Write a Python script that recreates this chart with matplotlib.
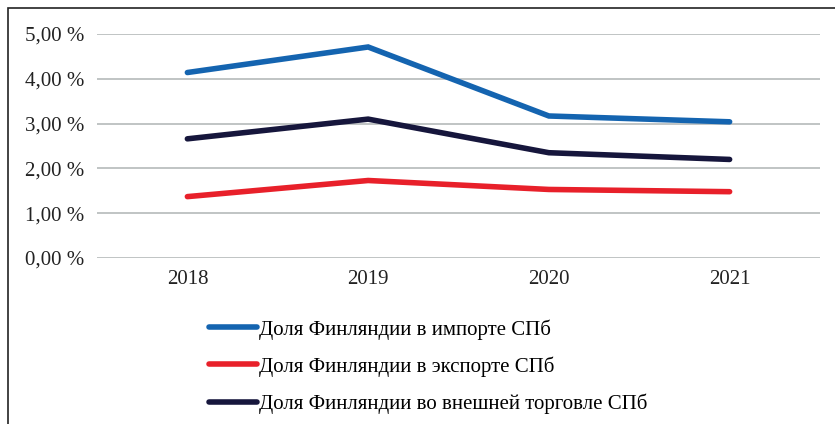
import matplotlib.pyplot as plt
from matplotlib.patches import Rectangle
from matplotlib.ticker import FuncFormatter

plt.rcParams["font.family"] = ["Liberation Serif", "DejaVu Serif"]
plt.rcParams["font.size"] = 15

# Данные
years = ["2018", "2019", "2020", "2021"]
import_share = [4.14, 4.71, 3.17, 3.04]
export_share = [1.37, 1.73, 1.53, 1.48]
trade_share = [2.66, 3.10, 2.35, 2.20]

labels = ["Доля Финляндии в импорте СПб",
          "Доля Финляндии в экспорте СПб",
          "Доля Финляндии во внешней торговле СПб"]
colors = ["#1464b0", "#e8202a", "#16163c"]


def main():
	fig = plt.figure(figsize=(8.35, 4.24), dpi=100)
	ax = fig.add_axes([97 / 835, 1 - 258 / 424, (820 - 97) / 835, (258 - 34) / 424])

	x = range(len(years))
	for vals, lab, col in zip([import_share, export_share, trade_share], labels, colors):
		ax.plot(x, vals, color=col, lw=4.0, solid_capstyle="round",
		        solid_joinstyle="miter", label=lab, zorder=3)

	ax.set_xlim(-0.5, len(years) - 0.5)
	ax.set_ylim(0, 5)
	ax.set_xticks(list(x))
	ax.set_xticklabels(years)
	ax.set_yticks([0, 1, 2, 3, 4, 5])
	ax.yaxis.set_major_formatter(FuncFormatter(lambda v, p: f"{v:.2f} %".replace(".", ",")))
	ax.grid(axis="y", color="#c0c4c4", lw=1.4)
	ax.set_axisbelow(True)
	for s in ax.spines.values():
		s.set_visible(False)
	ax.tick_params(length=0, labelsize=15, colors="#222222")
	ax.tick_params(axis="x", pad=9)
	ax.tick_params(axis="y", pad=9)

	fig.legend(loc="upper left", bbox_to_anchor=(209 / 835, 1 - 319 / 424),
	           frameon=False, handlelength=2.3, handletextpad=0.1,
	           labelspacing=0.8, borderpad=0, borderaxespad=0, fontsize=15)

	# рамка вокруг рисунка
	fig.patches.append(Rectangle((8 / 835, -0.1), 1.2, 1 - 8 / 424 + 0.1,
	                             transform=fig.transFigure, fill=False,
	                             edgecolor="#222222", lw=1.2))

	plt.savefig("out.png", dpi=100)


if __name__ == "__main__":
	main()
